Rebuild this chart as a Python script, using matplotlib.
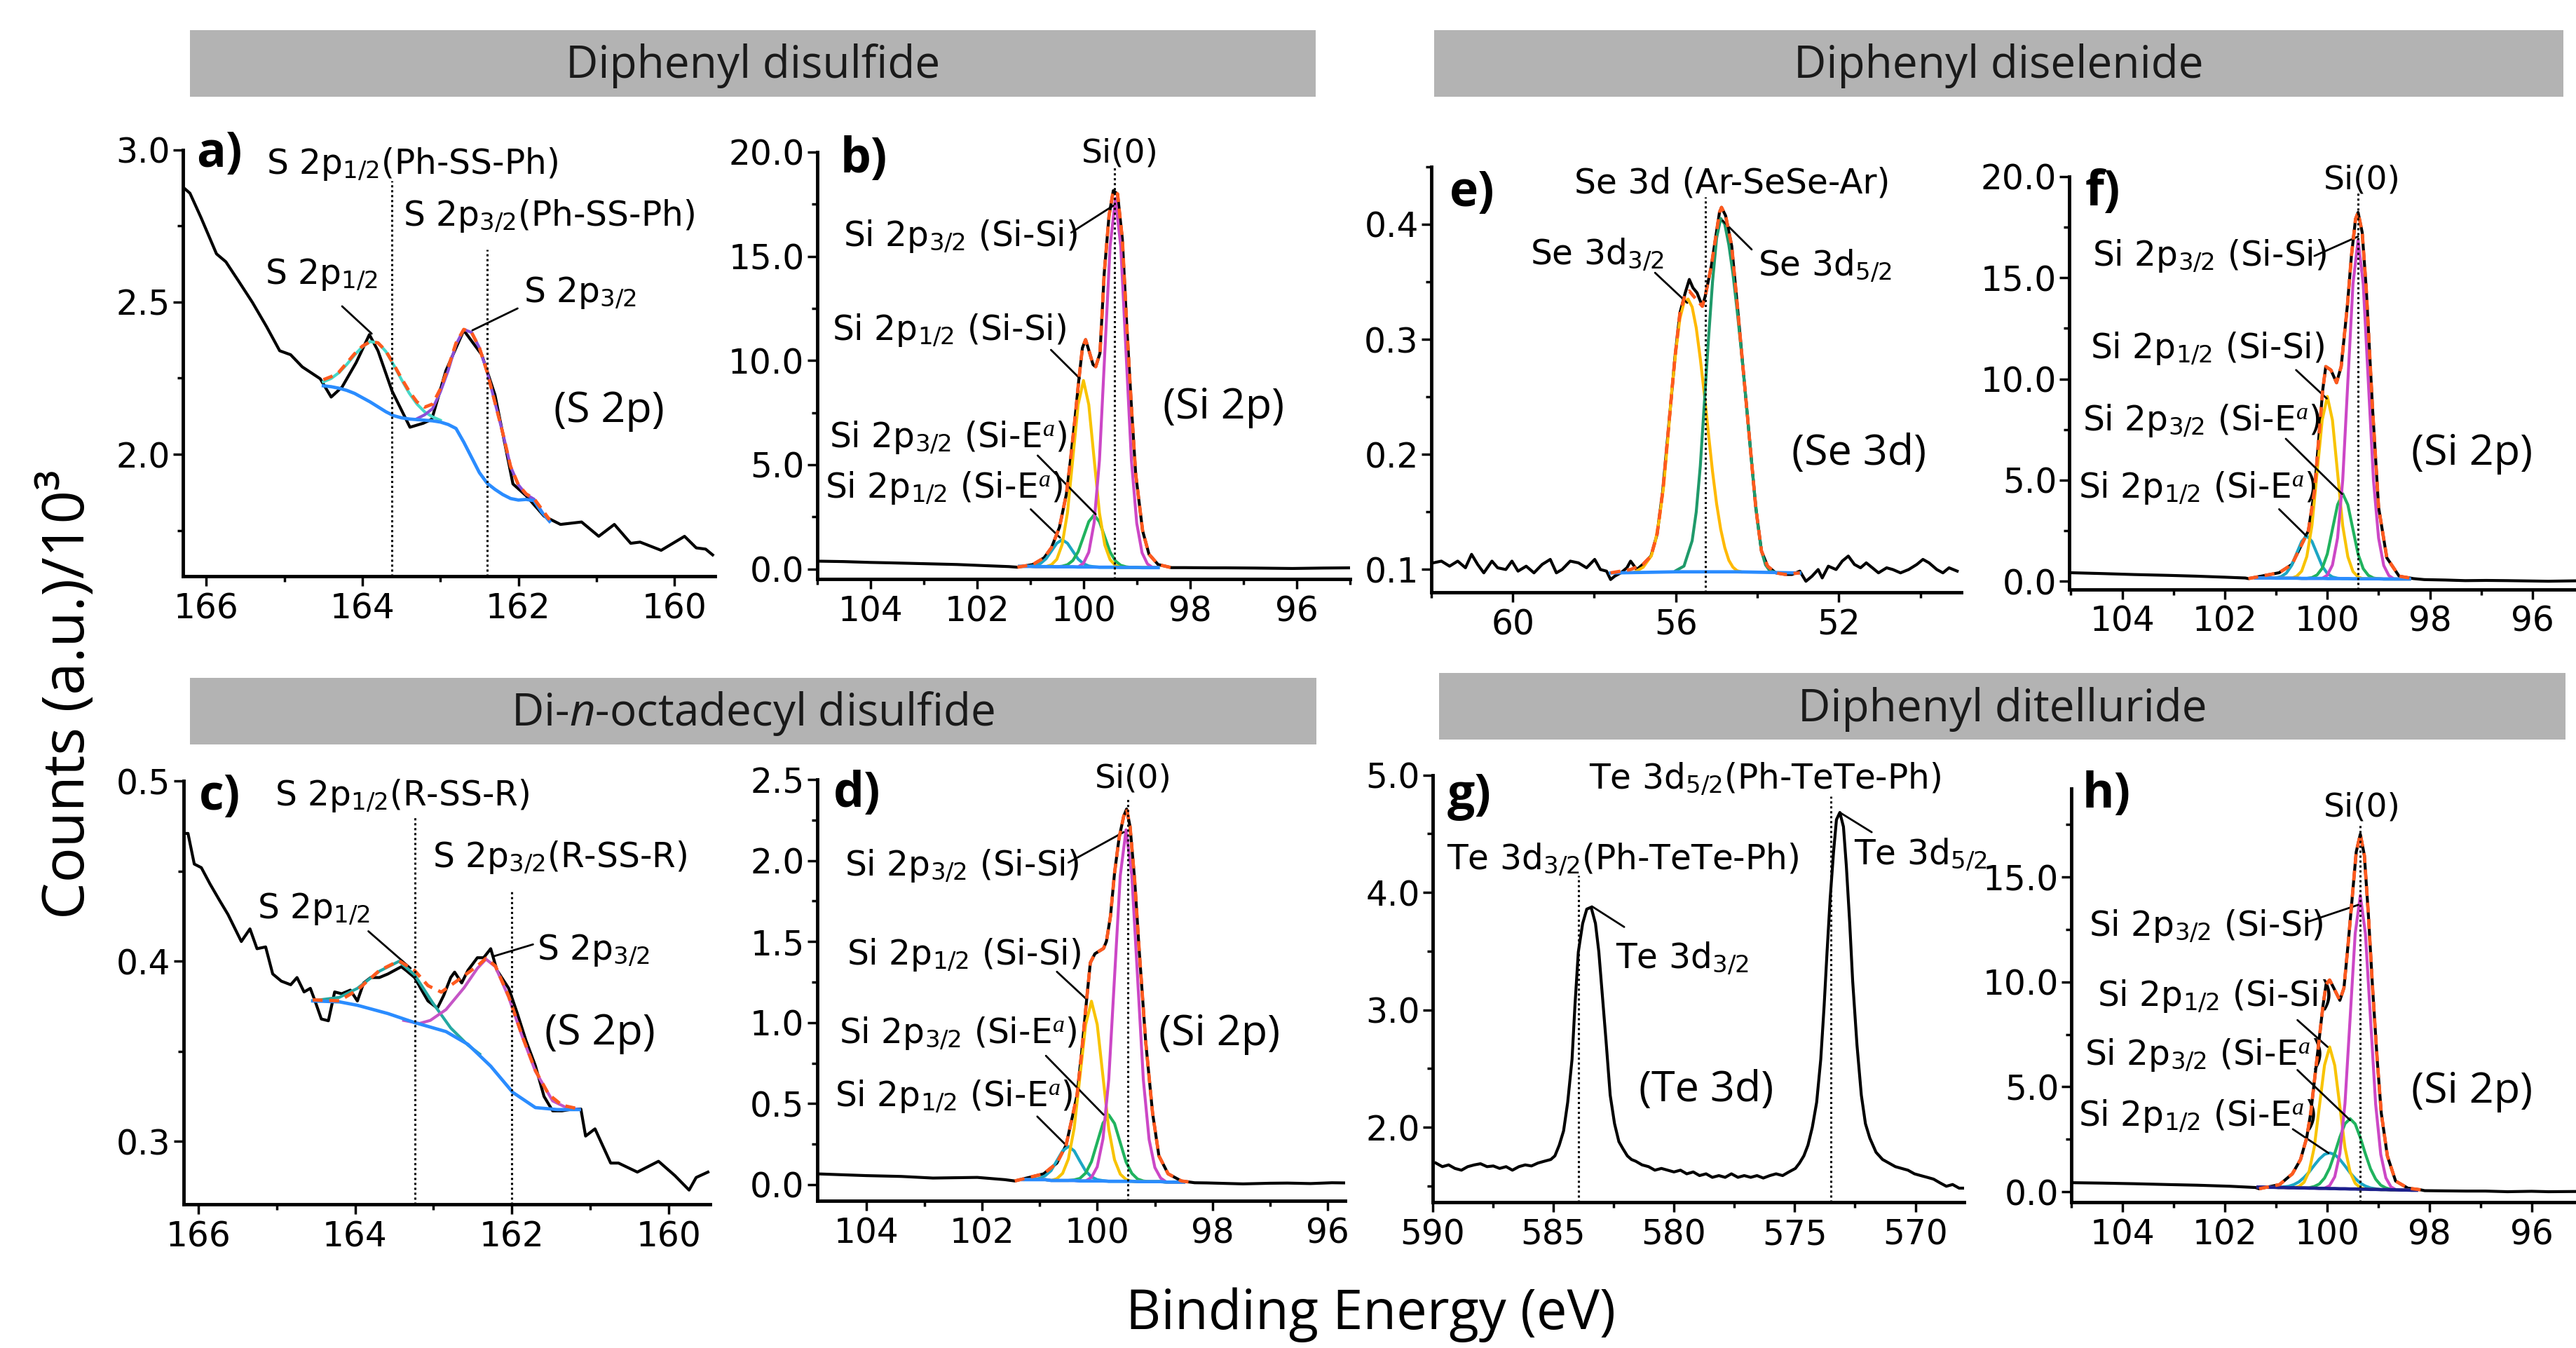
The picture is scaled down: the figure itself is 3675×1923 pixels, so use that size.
import matplotlib
matplotlib.use('Agg')
import matplotlib.pyplot as plt
from matplotlib.patches import Rectangle
from matplotlib.ticker import MultipleLocator, FormatStrFormatter

plt.rcParams['font.family'] = ['DejaVu Sans']
plt.rcParams['mathtext.fontset'] = 'custom'
plt.rcParams['mathtext.rm'] = 'DejaVu Sans'
plt.rcParams['mathtext.it'] = 'Liberation Serif:italic'
plt.rcParams['mathtext.sf'] = 'Open Sans:italic'

# ---------------- panel a : S 2p, diphenyl disulfide ----------------
a_raw_x = [166.30, 166.21, 166.07, 165.87, 165.75, 165.58, 165.41, 165.23, 165.06, 164.92,
           164.77, 164.54, 164.40, 164.26, 164.08, 163.91, 163.80, 163.62, 163.39, 163.22,
           163.11, 162.93, 162.70, 162.47, 162.30, 162.07, 161.90, 161.67, 161.46, 161.19,
           160.97, 160.77, 160.56, 160.44, 160.17, 159.87, 159.72, 159.60, 159.51]
a_raw_y = [2.877, 2.857, 2.778, 2.658, 2.632, 2.566, 2.499, 2.420, 2.340, 2.327,
           2.287, 2.248, 2.188, 2.221, 2.301, 2.393, 2.340, 2.208, 2.089, 2.102,
           2.115, 2.274, 2.407, 2.327, 2.195, 1.903, 1.864, 1.797, 1.770, 1.778,
           1.731, 1.770, 1.708, 1.712, 1.685, 1.731, 1.693, 1.689, 1.670]
a_fit_x = [164.5, 164.4, 164.3, 164.2, 164.1, 164.0, 163.9, 163.8, 163.7, 163.6,
           163.5, 163.4, 163.3, 163.2, 163.1, 163.0, 162.9, 162.8, 162.7, 162.6,
           162.5, 162.4, 162.3, 162.2, 162.1, 162.0, 161.9, 161.8, 161.7, 161.6]
a_bg = [2.225, 2.222, 2.217, 2.21, 2.20, 2.186, 2.172, 2.156, 2.14, 2.127,
        2.12, 2.116, 2.114, 2.112, 2.11, 2.106, 2.098, 2.085, 2.04, 1.99,
        1.94, 1.905, 1.885, 1.868, 1.855, 1.85, 1.852, 1.848, 1.81, 1.78]
a_env = [2.245, 2.255, 2.27, 2.30, 2.33, 2.355, 2.37, 2.366, 2.34, 2.296,
         2.25, 2.207, 2.172, 2.155, 2.165, 2.215, 2.285, 2.365, 2.41, 2.40,
         2.35, 2.27, 2.17, 2.07, 1.96, 1.90, 1.87, 1.855, 1.82, 1.785]
a_s12_x = [164.5, 164.4, 164.3, 164.2, 164.1, 164.0, 163.9, 163.8, 163.7, 163.6,
           163.5, 163.4, 163.3, 163.2, 163.1, 163.0]
a_s12_y = [2.238, 2.249, 2.268, 2.295, 2.326, 2.353, 2.370, 2.366, 2.338, 2.294,
           2.246, 2.201, 2.165, 2.139, 2.123, 2.112]
a_s32_x = [163.3, 163.2, 163.1, 163.0, 162.9, 162.8, 162.7, 162.6, 162.5, 162.4,
           162.3, 162.2, 162.1, 162.0, 161.9, 161.8, 161.7]
a_s32_y = [2.117, 2.13, 2.15, 2.205, 2.275, 2.36, 2.41, 2.40, 2.35, 2.27,
           2.17, 2.07, 1.96, 1.90, 1.868, 1.853, 1.812]
a_ref = [163.62, 162.40]
a_ref_top = [2.897, 2.672]

# ---------------- panel b : Si 2p, diphenyl disulfide ----------------
b_left_x = [104.97, 104.5, 104.0, 103.63, 103.0, 102.37, 101.8, 101.4]
b_left_y = [0.37, 0.35, 0.31, 0.29, 0.25, 0.21, 0.15, 0.11]
b_right_x = [98.1, 97.6, 97.34, 96.8, 96.08, 95.5, 94.99]
b_right_y = [0.06, 0.05, 0.05, 0.04, 0.02, 0.04, 0.05]
b_env_x = [101.24, 100.95, 100.74, 100.60, 100.45, 100.32, 100.24, 100.16, 100.09, 100.02,
           99.96, 99.90, 99.82, 99.77, 99.69, 99.61, 99.52, 99.44, 99.36, 99.27,
           99.19, 99.10, 99.02, 98.89, 98.77, 98.60, 98.35]
b_env_y = [0.08, 0.21, 0.53, 1.02, 2.0, 3.6, 5.3, 7.2, 9.0, 10.6,
           11.0, 10.5, 9.8, 9.7, 10.35, 14.2, 16.95, 18.15, 17.99, 15.82,
           11.8, 7.78, 4.56, 1.83, 0.70, 0.21, 0.06]
b_fit_x = [101.2, 101.1, 101.0, 100.9, 100.8, 100.7, 100.6, 100.5, 100.4, 100.3,
           100.2, 100.1, 100.0, 99.9, 99.8, 99.7, 99.6, 99.5, 99.4, 99.3,
           99.2, 99.1, 99.0, 98.9, 98.8, 98.7, 98.6]
b_bg = [0.12, 0.12, 0.12, 0.11, 0.11, 0.11, 0.11, 0.10, 0.10, 0.10,
        0.10, 0.09, 0.09, 0.09, 0.09, 0.08, 0.08, 0.08, 0.08, 0.07,
        0.07, 0.07, 0.07, 0.06, 0.06, 0.06, 0.06]
b_sisi32 = [0, 0, 0, 0, 0, 0, 0, 0, 0, 0, 0, 0, 0.18, 0.71, 2.12, 5.13, 10.27, 15.4, 17.7,
            15.4, 10.27, 5.13, 2.12, 0.71, 0.18, 0, 0]
b_sisi12 = [0, 0, 0, 0, 0, 0, 0.09, 0.36, 1.07, 2.6, 5.19, 7.79, 8.95, 7.79, 5.19, 2.6,
            1.07, 0.36, 0.09, 0, 0, 0, 0, 0, 0, 0, 0]
b_sie32 = [0, 0, 0, 0, 0, 0, 0, 0, 0.03, 0.1, 0.3, 0.73, 1.45, 2.18, 2.5, 2.18, 1.45,
           0.73, 0.3, 0.1, 0.03, 0, 0, 0, 0, 0, 0]
b_sie12 = [0, 0, 0.01, 0.05, 0.16, 0.38, 0.75, 1.13, 1.3, 1.13, 0.75, 0.38, 0.16, 0.05,
           0.01, 0, 0, 0, 0, 0, 0, 0, 0, 0, 0, 0, 0]
b_ref = 99.42

# ---------------- panel e : Se 3d, diphenyl diselenide ----------------
e_raw_x = [61.95, 61.75, 61.55, 61.35, 61.16, 61.01, 60.86, 60.71, 60.51, 60.37,
           60.17, 60.02, 59.87, 59.67, 59.48, 59.28, 59.08, 58.93, 58.79, 58.59,
           58.39, 58.19, 57.99, 57.85, 57.70, 57.60, 57.50, 57.35, 57.20, 57.11,
           56.96, 56.81, 56.61, 56.46, 56.32, 56.17, 56.02, 55.90, 55.77, 55.67,
           55.58, 55.48, 55.35, 55.28, 55.13, 55.03, 54.93, 54.88, 54.78, 54.63,
           54.49, 54.34, 54.19, 54.04, 53.90, 53.75, 53.55, 53.31, 53.15, 52.96,
           52.81, 52.66, 52.51, 52.41, 52.26, 52.07, 51.92, 51.77, 51.62, 51.47,
           51.33, 51.18, 51.03, 50.83, 50.68, 50.49, 50.29, 50.09, 49.94, 49.79,
           49.60, 49.45, 49.30, 49.10]
e_raw_y = [0.1058, 0.1073, 0.1029, 0.1073, 0.1015, 0.1132, 0.1044, 0.0971, 0.1073, 0.1015,
           0.1000, 0.1073, 0.0986, 0.1029, 0.0971, 0.1044, 0.1088, 0.0971, 0.1000, 0.1073,
           0.1058, 0.1015, 0.1088, 0.1000, 0.0986, 0.0913, 0.0942, 0.0971, 0.1015, 0.1073,
           0.1000, 0.1044, 0.1117, 0.1306, 0.1685, 0.2267, 0.2850, 0.3229, 0.3404, 0.3520,
           0.3447, 0.3404, 0.3287, 0.3374, 0.3636, 0.3870, 0.4102, 0.4146, 0.4074, 0.3811,
           0.3287, 0.2705, 0.2122, 0.1539, 0.1161, 0.1029, 0.0971, 0.0957, 0.0957, 0.0986,
           0.0898, 0.0942, 0.1000, 0.0927, 0.1029, 0.1000, 0.1073, 0.1117, 0.1044, 0.1015,
           0.1058, 0.1015, 0.0971, 0.1015, 0.1000, 0.0971, 0.1000, 0.1044, 0.1088, 0.1058,
           0.1000, 0.0971, 0.1015, 0.0986]
e_env_x = [57.60, 57.11, 56.81, 56.61, 56.46, 56.32, 56.17, 56.02, 55.90, 55.77,
           55.67, 55.58, 55.48, 55.35, 55.28, 55.13, 55.03, 54.93, 54.88, 54.78,
           54.63, 54.49, 54.34, 54.19, 54.04, 53.90, 53.75, 53.55, 53.31, 52.96]
e_env_y = [0.0971, 0.1000, 0.1044, 0.1117, 0.1306, 0.1685, 0.2267, 0.2850, 0.3229, 0.3390,
           0.3420, 0.3380, 0.3340, 0.3287, 0.3374, 0.3636, 0.3870, 0.4102, 0.4146, 0.4074,
           0.3811, 0.3287, 0.2705, 0.2122, 0.1539, 0.1161, 0.1029, 0.0971, 0.0957, 0.0971]
e_s32_x = [57.0, 56.8, 56.6, 56.5, 56.4, 56.3, 56.2, 56.1, 56.0, 55.9, 55.8, 55.7, 55.6,
           55.5, 55.4, 55.3, 55.2, 55.1, 55.0, 54.9, 54.8, 54.7, 54.6, 54.5, 54.4]
e_s32_y = [0.098, 0.102, 0.112, 0.125, 0.145, 0.172, 0.212, 0.255, 0.290, 0.318, 0.332,
           0.335, 0.328, 0.310, 0.283, 0.252, 0.218, 0.185, 0.157, 0.135, 0.119, 0.108,
           0.102, 0.099, 0.098]
e_s52_x = [56.0, 55.8, 55.6, 55.5, 55.4, 55.3, 55.2, 55.1, 55.0, 54.9, 54.8, 54.7, 54.6,
           54.5, 54.4, 54.3, 54.2, 54.1, 54.0, 53.9, 53.8, 53.7, 53.6]
e_s52_y = [0.099, 0.103, 0.125, 0.150, 0.190, 0.245, 0.300, 0.350, 0.388, 0.405, 0.400,
           0.382, 0.357, 0.326, 0.292, 0.255, 0.216, 0.177, 0.142, 0.116, 0.104, 0.099, 0.098]
e_bg_x = [57.6, 56.0, 54.5, 52.96]
e_bg_y = [0.097, 0.098, 0.098, 0.097]
e_ref = 55.28

# ---------------- panel f : Si 2p, diphenyl diselenide ----------------
f_left_x = [105.0, 104.4, 103.76, 103.1, 102.55, 102.0, 101.6]
f_left_y = [0.42, 0.38, 0.33, 0.29, 0.25, 0.20, 0.16]
f_right_x = [98.11, 97.7, 97.31, 96.9, 96.50, 95.69, 95.15]
f_right_y = [0.08, 0.06, 0.03, 0.04, 0.03, 0.0, 0.02]
f_env_x = [101.54, 100.94, 100.69, 100.53, 100.37, 100.25, 100.17, 100.09, 100.03, 99.93,
           99.82, 99.73, 99.61, 99.53, 99.45, 99.40, 99.32, 99.24, 99.12, 99.00,
           98.84, 98.60, 98.32]
f_env_y = [0.13, 0.42, 0.83, 1.66, 2.49, 4.48, 6.96, 9.45, 10.61, 10.44,
           9.81, 10.61, 13.59, 16.08, 17.9, 18.23, 17.24, 14.42, 8.62, 3.65,
           1.16, 0.25, 0.13]
f_fit_x = [101.4, 101.3, 101.2, 101.1, 101.0, 100.9, 100.8, 100.7, 100.6, 100.5, 100.4,
           100.3, 100.2, 100.1, 100.0, 99.9, 99.8, 99.7, 99.6, 99.5, 99.4, 99.3, 99.2,
           99.1, 99.0, 98.9, 98.8, 98.7, 98.6, 98.5, 98.4]
f_bg = [0.16, 0.16, 0.16, 0.16, 0.15, 0.15, 0.15, 0.15, 0.15, 0.14, 0.14, 0.14, 0.14,
        0.14, 0.13, 0.13, 0.13, 0.13, 0.13, 0.12, 0.12, 0.12, 0.12, 0.12, 0.12, 0.11,
        0.11, 0.11, 0.11, 0.11, 0.11]
f_sisi32 = [0, 0, 0, 0, 0, 0, 0, 0, 0, 0, 0, 0, 0, 0, 0.17, 0.67, 2.01, 4.86, 9.72, 14.57,
            16.75, 14.57, 9.72, 4.86, 2.01, 0.67, 0.17, 0, 0, 0, 0]
f_sisi12 = [0, 0, 0, 0, 0, 0, 0, 0, 0.09, 0.36, 1.08, 2.61, 5.22, 7.83, 9.0, 7.83, 5.22,
            2.61, 1.08, 0.36, 0.09, 0, 0, 0, 0, 0, 0, 0, 0, 0, 0]
f_sie32 = [0, 0, 0, 0, 0, 0, 0, 0, 0, 0, 0, 0.04, 0.17, 0.5, 1.22, 2.44, 3.65, 4.2, 3.65,
           2.44, 1.22, 0.5, 0.17, 0.04, 0, 0, 0, 0, 0, 0, 0]
f_sie12 = [0, 0, 0, 0, 0.02, 0.08, 0.25, 0.61, 1.22, 1.83, 2.1, 1.83, 1.22, 0.61, 0.25,
           0.08, 0.02, 0, 0, 0, 0, 0, 0, 0, 0, 0, 0, 0, 0, 0, 0]
f_ref = 99.40

# ---------------- panel c : S 2p, di-n-octadecyl disulfide ----------------
c_raw_x = [166.19, 166.13, 166.05, 165.96, 165.85, 165.73, 165.62, 165.45, 165.34, 165.25,
           165.14, 165.05, 164.94, 164.82, 164.74, 164.65, 164.57, 164.51, 164.43, 164.34,
           164.26, 164.17, 164.06, 163.97, 163.89, 163.80, 163.69, 163.58, 163.41, 163.35,
           163.24, 163.15, 163.07, 162.95, 162.87, 162.78, 162.73, 162.64, 162.56, 162.44,
           162.36, 162.27, 162.19, 162.04, 161.93, 161.82, 161.70, 161.59, 161.48, 161.36,
           161.22, 161.12, 161.06, 160.94, 160.74, 160.64, 160.40, 160.13, 159.92, 159.74,
           159.65, 159.50]
c_raw_y = [0.471, 0.471, 0.454, 0.452, 0.443, 0.434, 0.426, 0.411, 0.418, 0.407,
           0.408, 0.393, 0.389, 0.387, 0.391, 0.383, 0.385, 0.378, 0.368, 0.367,
           0.383, 0.382, 0.384, 0.378, 0.388, 0.391, 0.391, 0.393, 0.397, 0.395,
           0.391, 0.384, 0.378, 0.374, 0.381, 0.391, 0.394, 0.388, 0.395, 0.402,
           0.402, 0.407, 0.395, 0.385, 0.371, 0.356, 0.342, 0.325, 0.317, 0.317,
           0.318, 0.318, 0.303, 0.307, 0.288, 0.288, 0.283, 0.289, 0.281, 0.273,
           0.280, 0.283]
c_env_x = [164.54, 164.20, 163.97, 163.69, 163.44, 163.24, 163.07, 162.90, 162.67, 162.44,
           162.33, 162.21, 162.04, 161.87, 161.70, 161.53, 161.36, 161.16]
c_env_y = [0.3786, 0.3781, 0.3841, 0.3949, 0.4003, 0.3949, 0.3865, 0.3829, 0.3901, 0.3974,
           0.4017, 0.3974, 0.3805, 0.3588, 0.3394, 0.3261, 0.3201, 0.3182]
c_bg_x = [164.54, 164.20, 163.97, 163.58, 163.24, 162.84, 162.56, 162.27, 161.99, 161.70,
          161.42, 161.14]
c_bg_y = [0.378, 0.3775, 0.3756, 0.371, 0.366, 0.361, 0.3539, 0.3418, 0.3273, 0.3188,
          0.3177, 0.3177]
c_s12_x = [164.54, 164.20, 163.97, 163.69, 163.44, 163.24, 163.01, 162.78, 162.56, 162.41]
c_s12_y = [0.3781, 0.3800, 0.3850, 0.3945, 0.4000, 0.3925, 0.3770, 0.3630, 0.3535, 0.3485]
c_s32_x = [163.38, 163.18, 163.04, 162.84, 162.61, 162.44, 162.33, 162.21, 162.04, 161.87,
           161.70, 161.48, 161.31, 161.14]
c_s32_y = [0.3672, 0.3655, 0.3672, 0.3732, 0.3853, 0.3961, 0.4012, 0.3970, 0.3800, 0.3585,
           0.3390, 0.3225, 0.3189, 0.3177]
c_ref = [163.24, 162.0]
c_ref_top = [0.4807, 0.4396]

# ---------------- panel d : Si 2p, di-n-octadecyl disulfide ----------------
d_left_x = [104.86, 104.4, 104.0, 103.4, 102.85, 102.08, 101.6]
d_left_y = [0.066, 0.060, 0.055, 0.050, 0.040, 0.044, 0.030]
d_right_x = [98.1, 97.47, 97.0, 96.70, 96.3, 95.93, 95.7]
d_right_y = [0.010, 0.004, 0.008, 0.009, 0.006, 0.011, 0.010]
d_env_x = [101.43, 100.93, 100.70, 100.54, 100.43, 100.35, 100.27, 100.20, 100.12, 100.04,
           99.89, 99.84, 99.77, 99.70, 99.62, 99.54, 99.49, 99.43, 99.35, 99.27,
           99.16, 99.04, 98.93, 98.77, 98.54, 98.31]
d_env_y = [0.022, 0.066, 0.132, 0.243, 0.420, 0.552, 0.817, 1.082, 1.369, 1.425,
           1.458, 1.502, 1.657, 1.922, 2.142, 2.275, 2.319, 2.209, 1.877, 1.436,
           0.884, 0.442, 0.177, 0.066, 0.022, 0.011]
d_fit_x = [101.3, 101.2, 101.1, 101.0, 100.9, 100.8, 100.7, 100.6, 100.5, 100.4, 100.3,
           100.2, 100.1, 100.0, 99.9, 99.8, 99.7, 99.6, 99.5, 99.4, 99.3, 99.2, 99.1,
           99.0, 98.9, 98.8, 98.7, 98.6, 98.5]
d_bg = [0.03, 0.03, 0.03, 0.03, 0.03, 0.025, 0.025, 0.025, 0.025, 0.025, 0.022, 0.022,
        0.022, 0.022, 0.022, 0.02, 0.02, 0.02, 0.02, 0.02, 0.018, 0.018, 0.018, 0.018,
        0.018, 0.015, 0.015, 0.015, 0.015]
d_sisi32 = [0, 0, 0, 0, 0, 0, 0, 0, 0, 0, 0, 0, 0.022, 0.087, 0.26, 0.629, 1.259, 1.888,
            2.17, 1.888, 1.259, 0.629, 0.26, 0.087, 0.022, 0, 0, 0, 0]
d_sisi12 = [0, 0, 0, 0, 0, 0, 0.011, 0.044, 0.133, 0.322, 0.644, 0.966, 1.11, 0.966,
            0.644, 0.322, 0.133, 0.044, 0.011, 0, 0, 0, 0, 0, 0, 0, 0, 0, 0]
d_sie32 = [0, 0, 0, 0, 0, 0, 0, 0, 0, 0.004, 0.016, 0.049, 0.119, 0.238, 0.357, 0.41,
           0.357, 0.238, 0.119, 0.049, 0.016, 0.004, 0, 0, 0, 0, 0, 0, 0]
d_sie12 = [0, 0, 0.002, 0.008, 0.025, 0.061, 0.122, 0.183, 0.21, 0.183, 0.122, 0.061,
           0.025, 0.008, 0.002, 0, 0, 0, 0, 0, 0, 0, 0, 0, 0, 0, 0, 0, 0]
d_ref = 99.47

# ---------------- panel g : Te 3d, diphenyl ditelluride ----------------
g_raw_x = [589.86, 589.59, 589.33, 589.07, 588.80, 588.54, 588.27, 588.01, 587.74, 587.48,
           587.22, 586.95, 586.69, 586.42, 586.16, 585.90, 585.63, 585.37, 585.10, 584.93,
           584.75, 584.57, 584.40, 584.22, 584.10, 583.96, 583.78, 583.61, 583.43, 583.25,
           583.11, 582.99, 582.81, 582.64, 582.46, 582.28, 582.11, 581.93, 581.76, 581.58,
           581.32, 581.05, 580.79, 580.52, 580.26, 580.00, 579.73, 579.47, 579.20, 578.94,
           578.67, 578.41, 578.14, 577.88, 577.62, 577.35, 577.09, 576.82, 576.56, 576.30,
           576.03, 575.77, 575.50, 575.24, 574.97, 574.80, 574.62, 574.45, 574.27, 574.09,
           573.92, 573.78, 573.66, 573.53, 573.39, 573.27, 573.13, 572.98, 572.86, 572.72,
           572.60, 572.42, 572.24, 572.07, 571.89, 571.63, 571.36, 571.10, 570.83, 570.57,
           570.31, 570.04, 569.78, 569.51, 569.25, 568.99, 568.72, 568.46, 568.19, 567.96]
g_raw_y = [1.696, 1.665, 1.680, 1.650, 1.635, 1.665, 1.680, 1.690, 1.665, 1.671,
           1.650, 1.665, 1.635, 1.665, 1.680, 1.671, 1.696, 1.711, 1.726, 1.757,
           1.848, 1.970, 2.213, 2.579, 3.036, 3.493, 3.736, 3.858, 3.874, 3.736,
           3.493, 3.188, 2.731, 2.274, 2.031, 1.878, 1.817, 1.757, 1.726, 1.711,
           1.680, 1.665, 1.635, 1.650, 1.635, 1.620, 1.635, 1.604, 1.620, 1.589,
           1.604, 1.574, 1.589, 1.574, 1.604, 1.574, 1.589, 1.574, 1.589, 1.568,
           1.589, 1.604, 1.589, 1.620, 1.650, 1.696, 1.757, 1.848, 2.000, 2.213,
           2.579, 3.036, 3.493, 3.950, 4.346, 4.620, 4.681, 4.559, 4.224, 3.736,
           3.249, 2.701, 2.274, 2.031, 1.909, 1.787, 1.726, 1.696, 1.665, 1.650,
           1.635, 1.604, 1.589, 1.574, 1.559, 1.528, 1.498, 1.513, 1.482, 1.482]
g_ref = [583.94, 573.51]
g_ref_top = [4.147, 4.818]

# ---------------- panel h : Si 2p, diphenyl ditelluride ----------------
h_left_x = [104.99, 104.4, 103.76, 103.1, 102.54, 101.9, 101.4]
h_left_y = [0.43, 0.41, 0.38, 0.34, 0.31, 0.26, 0.20]
h_right_x = [98.09, 97.7, 97.28, 96.9, 96.47, 96.0, 95.67, 95.13]
h_right_y = [0.05, 0.04, 0.03, 0.03, 0.0, 0.02, 0.0, 0.01]
h_env_x = [101.33, 100.93, 100.68, 100.52, 100.40, 100.32, 100.24, 100.16, 100.08, 100.02,
           99.95, 99.87, 99.75, 99.67, 99.59, 99.51, 99.43, 99.35, 99.27, 99.19,
           99.11, 99.02, 98.94, 98.82, 98.66, 98.42, 98.17]
h_env_y = [0.14, 0.34, 0.85, 1.53, 2.56, 3.75, 5.45, 7.16, 8.86, 9.88,
           10.09, 9.71, 9.12, 9.71, 11.76, 13.97, 16.19, 17.04, 16.02, 13.12,
           9.71, 6.31, 3.75, 1.70, 0.51, 0.17, 0.09]
h_fit_x = [101.35, 101.25, 101.15, 101.05, 100.95, 100.85, 100.75, 100.65, 100.55, 100.45,
           100.35, 100.25, 100.15, 100.05, 99.95, 99.85, 99.75, 99.65, 99.55, 99.45,
           99.35, 99.25, 99.15, 99.05, 98.95, 98.85, 98.75, 98.65, 98.55, 98.45,
           98.35, 98.25]
h_bg = [0.22, 0.22, 0.21, 0.21, 0.20, 0.20, 0.19, 0.19, 0.18, 0.18, 0.17, 0.17, 0.16,
        0.16, 0.15, 0.15, 0.14, 0.14, 0.13, 0.13, 0.12, 0.12, 0.11, 0.11, 0.10, 0.10,
        0.09, 0.09, 0.08, 0.08, 0.07, 0.07]
h_sisi32 = [0, 0, 0, 0, 0, 0, 0, 0, 0, 0, 0, 0, 0, 0, 0.14, 0.56, 1.68, 4.06, 8.12, 12.18,
            14.0, 12.18, 8.12, 4.06, 1.68, 0.56, 0.14, 0, 0, 0, 0, 0]
h_sisi12 = [0, 0, 0, 0, 0, 0, 0, 0, 0.07, 0.27, 0.81, 1.96, 3.92, 5.87, 6.75, 5.87, 3.92,
            1.96, 0.81, 0.27, 0.07, 0, 0, 0, 0, 0, 0, 0, 0, 0, 0, 0]
h_sie32 = [0, 0, 0, 0, 0, 0, 0, 0, 0, 0, 0.02, 0.08, 0.21, 0.49, 0.98, 1.68, 2.46, 3.10,
           3.35, 3.10, 2.46, 1.68, 0.98, 0.49, 0.21, 0.08, 0.02, 0, 0, 0, 0, 0]
h_sie12 = [0, 0, 0, 0, 0, 0.03, 0.07, 0.15, 0.29, 0.50, 0.77, 1.09, 1.40, 1.62, 1.70, 1.62,
           1.40, 1.09, 0.77, 0.50, 0.29, 0.15, 0.07, 0.03, 0, 0, 0, 0, 0, 0, 0, 0]
h_ref = 99.35

# ---------------- styling ----------------
W, H = 3675, 1923
TITLE = ['Open Sans', 'DejaVu Sans']
ENV = '#ff5a1e'
BG = '#2a8cff'
MAG = '#cc47c6'
YEL = '#f8c300'
GRN = '#20b35e'
CYA = '#1ca6c4'

fig = plt.figure(figsize=(W / 100, H / 100), dpi=100)


def add_panel(box, xlim, ylim, xstep, ystep, yfmt):
    l, t, r, b = box
    ax = fig.add_axes([l / W, 1 - b / H, (r - l) / W, (b - t) / H])
    ax.patch.set_alpha(0)
    ax.set_xlim(*xlim)
    ax.set_ylim(*ylim)
    ax.spines[['top', 'right']].set_visible(False)
    ax.spines[['left', 'bottom']].set_linewidth(3.5)
    ax.xaxis.set_major_locator(MultipleLocator(xstep))
    ax.xaxis.set_minor_locator(MultipleLocator(xstep / 2))
    ax.yaxis.set_major_locator(MultipleLocator(ystep))
    ax.yaxis.set_minor_locator(MultipleLocator(ystep / 2))
    ax.xaxis.set_major_formatter(FormatStrFormatter('%d'))
    ax.yaxis.set_major_formatter(FormatStrFormatter(yfmt))
    ax.tick_params(which='both', direction='out', width=2.5, labelsize=35)
    ax.tick_params(which='major', length=10)
    ax.tick_params(which='minor', length=6)
    ax.tick_params(axis='x', pad=6)
    ax.tick_params(axis='y', pad=3)
    return ax


def note(ax, x, y, s, size=35):
    ax.text(x, y, s, fontsize=size, ha='left', va='baseline')


def leader(ax, p0, p1):
    ax.annotate('', xy=p1, xytext=p0,
                arrowprops=dict(arrowstyle='-', color='black', lw=2, shrinkA=0, shrinkB=0))


def ref_line(ax, x, top):
    ax.vlines(x, ax.get_ylim()[0], top, colors='black', linestyles=(0, (1, 1.3)), lw=2.2, zorder=6)


def region(ax, x, y, s):
    ax.text(x, y, s, fontsize=44, family=TITLE, ha='left', va='center')


def letter(ax, x, y, s):
    ax.text(x, y, s, fontsize=50, family=TITLE, fontweight='bold', ha='left', va='baseline')


def raw(ax, x, y):
    ax.plot(x, y, color='black', lw=3.0, zorder=2)


def comp(ax, x, y, color, lw=3.0):
    ax.plot(x, y, color=color, lw=lw, zorder=3)


def fit_env(ax, x, y):
    ax.plot(x, y, color=ENV, lw=3.4, ls=(0, (3, 2)), zorder=5)


def on_bg(bg, peak):
    return [b + p for b, p in zip(bg, peak)]


def si_panel(ax, left_x, left_y, env_x, env_y, right_x, right_y, fit_x, bg,
             s32, s12, e32, e12, bg_color=BG):
    raw(ax, left_x + env_x + right_x, left_y + env_y + right_y)
    comp(ax, fit_x, on_bg(bg, e12), CYA)
    comp(ax, fit_x, on_bg(bg, e32), GRN)
    comp(ax, fit_x, on_bg(bg, s12), YEL)
    comp(ax, fit_x, on_bg(bg, s32), MAG)
    comp(ax, fit_x, bg, bg_color, lw=3.4)
    fit_env(ax, env_x, env_y)


def si_labels(ax, si0, ref, ref_top, pos, lines, reg, let):
    ax.text(si0[0], si0[1], 'Si(0)', fontsize=34, ha='center', va='baseline')
    ref_line(ax, ref, ref_top)
    texts = ['Si 2p$_{3/2}$ (Si-Si)', 'Si 2p$_{1/2}$ (Si-Si)',
             'Si 2p$_{3/2}$ (Si-E$^{a}$)', 'Si 2p$_{1/2}$ (Si-E$^{a}$)']
    for s, p, ln in zip(texts, pos, lines):
        note(ax, p[0], p[1], s)
        leader(ax, ln[0], ln[1])
    region(ax, reg[0], reg[1], '(Si 2p)')
    letter(ax, let[0], let[1], let[2])


# ---- a ----
ax = add_panel((261, 213.5, 1020, 822), (166.3, 159.48), (1.6, 3.0), 2, 0.5, '%.1f')
raw(ax, a_raw_x, a_raw_y)
comp(ax, a_s12_x, a_s12_y, '#45d8c8')
comp(ax, a_s32_x, a_s32_y, '#8b4fd8')
comp(ax, a_fit_x, a_bg, BG, lw=3.4)
fit_env(ax, a_fit_x, a_env)
for x, top in zip(a_ref, a_ref_top):
    ref_line(ax, x, top)
note(ax, 165.23, 2.92, 'S 2p$_{1/2}$(Ph-SS-Ph)')
note(ax, 163.48, 2.751, 'S 2p$_{3/2}$(Ph-SS-Ph)')
note(ax, 165.25, 2.559, 'S 2p$_{1/2}$')
leader(ax, (164.26, 2.486), (163.88, 2.396))
note(ax, 161.93, 2.499, 'S 2p$_{3/2}$')
leader(ax, (162.01, 2.479), (162.59, 2.407))
region(ax, 161.55, 2.142, '(S 2p)')
letter(ax, 166.13, 2.943, 'a)')

# ---- b ----
ax = add_panel((1165.6, 217, 1925.8, 826.4), (105, 95), (-0.5, 20), 2, 5, '%.1f')
si_panel(ax, b_left_x, b_left_y, b_env_x, b_env_y, b_right_x, b_right_y, b_fit_x, b_bg,
         b_sisi32, b_sisi12, b_sie32, b_sie12)
si_labels(ax, (99.32, 19.5), b_ref, 19.36,
          [(104.51, 15.5), (104.72, 10.99), (104.77, 5.84), (104.85, 3.43)],
          [((100.23, 16.14), (99.44, 17.43)), ((100.61, 10.51), (100.07, 9.14)),
           ((100.86, 5.44), (99.77, 2.62)), ((100.99, 2.86), (100.44, 1.5))],
          (98.51, 7.77), (104.56, 19.04, 'b)'))

# ---- e ----
ax = add_panel((2041.8, 237.7, 2798, 845.3), (62, 49), (0.08, 0.45), 4, 0.1, '%.1f')
raw(ax, e_raw_x, e_raw_y)
comp(ax, e_s32_x, e_s32_y, '#ffb900')
comp(ax, e_s52_x, e_s52_y, '#1f9a6a')
comp(ax, e_bg_x, e_bg_y, BG, lw=3.4)
fit_env(ax, e_env_x, e_env_y)
ref_line(ax, e_ref, 0.4234)
note(ax, 58.49, 0.4272, 'Se 3d (Ar-SeSe-Ar)')
note(ax, 59.57, 0.365, 'Se 3d$_{3/2}$')
leader(ax, (56.51, 0.3578), (55.72, 0.3316))
note(ax, 53.99, 0.355, 'Se 3d$_{5/2}$')
leader(ax, (54.14, 0.378), (54.85, 0.403))
region(ax, 53.16, 0.2005, '(Se 3d)')
letter(ax, 61.55, 0.416, 'e)')

# ---- f ----
ax = add_panel((2952.3, 251.9, 3675, 840.7), (105.03, 95.15), (-0.4, 20), 2, 5, '%.1f')
si_panel(ax, f_left_x, f_left_y, f_env_x, f_env_y, f_right_x, f_right_y, f_fit_x, f_bg,
         f_sisi32, f_sisi12, f_sie32, f_sie12)
si_labels(ax, (99.32, 19.39), f_ref, 19.22,
          [(104.58, 15.58), (104.62, 11.02), (104.77, 7.46), (104.85, 4.14)],
          [((100.25, 16.08), (99.40, 17.04)), ((100.61, 10.44), (100.01, 9.03)),
           ((100.81, 7.04), (99.71, 4.31)), ((100.94, 3.56), (100.41, 2.24))],
          (98.36, 6.3), (104.73, 18.56, 'f)'))

# ---- c ----
ax = add_panel((261.5, 1114.4, 1013.3, 1718.3), (166.19, 159.47), (0.265, 0.5), 2, 0.1, '%.1f')
raw(ax, c_raw_x, c_raw_y)
comp(ax, c_s12_x, c_s12_y, '#24a8a2')
comp(ax, c_s32_x, c_s32_y, '#c555c6')
comp(ax, c_bg_x, c_bg_y, BG, lw=3.4)
fit_env(ax, c_env_x, c_env_y)
for x, top in zip(c_ref, c_ref_top):
    ref_line(ax, x, top)
note(ax, 165.02, 0.4867, 'S 2p$_{1/2}$(R-SS-R)')
note(ax, 163.01, 0.4524, 'S 2p$_{3/2}$(R-SS-R)')
note(ax, 165.25, 0.4239, 'S 2p$_{1/2}$')
leader(ax, (163.83, 0.4167), (163.29, 0.3962))
note(ax, 161.68, 0.401, 'S 2p$_{3/2}$')
leader(ax, (161.73, 0.4094), (162.24, 0.4027))
region(ax, 161.58, 0.36, '(S 2p)')
letter(ax, 165.99, 0.4843, 'c)')

# ---- d ----
ax = add_panel((1165.6, 1112.2, 1919, 1712.9), (104.86, 95.7), (-0.1, 2.5), 2, 0.5, '%.1f')
si_panel(ax, d_left_x, d_left_y, d_env_x, d_env_y, d_right_x, d_right_y, d_fit_x, d_bg,
         d_sisi32, d_sisi12, d_sie32, d_sie12)
si_labels(ax, (99.38, 2.452), d_ref, 2.385,
          [(104.38, 1.910), (104.35, 1.358), (104.48, 0.872), (104.55, 0.486)],
          [((100.50, 1.988), (99.54, 2.176)), ((100.70, 1.314), (100.20, 1.149)),
           ((100.89, 0.795), (99.89, 0.431)), ((101.04, 0.42), (100.54, 0.243))],
          (98.93, 0.928), (104.58, 2.33, 'd)'))

# ---- g ----
ax = add_panel((2043.6, 1105.6, 2801.5, 1715.4), (590, 568), (1.36, 5.0), 5, 1, '%.1f')
raw(ax, g_raw_x, g_raw_y)
for x, top in zip(g_ref, g_ref_top):
    ref_line(ax, x, top)
note(ax, 583.52, 4.879, 'Te 3d$_{5/2}$(Ph-TeTe-Ph)')
note(ax, 589.42, 4.193, 'Te 3d$_{3/2}$(Ph-TeTe-Ph)')
note(ax, 582.41, 3.356, 'Te 3d$_{3/2}$')
leader(ax, (582.06, 3.706), (583.40, 3.882))
note(ax, 572.55, 4.239, 'Te 3d$_{5/2}$')
leader(ax, (571.81, 4.513), (573.13, 4.681))
region(ax, 581.46, 2.32, '(Te 3d)')
letter(ax, 589.38, 4.711, 'g)')

# ---- h ----
ax = add_panel((2955.3, 1125.3, 3675, 1715), (105, 95.13), (-0.5, 19.2), 2, 5, '%.1f')
si_panel(ax, h_left_x, h_left_y, h_env_x, h_env_y, h_right_x, h_right_y, h_fit_x, h_bg,
         h_sisi32, h_sisi12, h_sie32, h_sie12, bg_color='#1c1f8c')
si_labels(ax, (99.32, 17.89), h_ref, 17.47,
          [(104.66, 12.18), (104.49, 8.86), (104.74, 6.05), (104.87, 3.15)],
          [((100.37, 12.87), (99.39, 13.67)), ((100.58, 8.18), (99.99, 6.9)),
           ((100.58, 5.8), (99.55, 3.41)), ((100.67, 2.98), (99.97, 1.84))],
          (98.35, 4.77), (104.79, 18.32, 'h)'))

# ---- title bars ----
bars = [((271, 43, 1877, 138), 'Diphenyl disulfide'),
        ((2046, 43, 3657, 138), 'Diphenyl diselenide'),
        ((271, 967, 1878, 1062), r'Di-$\mathsf{n}$-octadecyl disulfide'),
        ((2053, 960, 3660, 1055), 'Diphenyl ditelluride')]
for (l, t, r, b), s in bars:
    fig.add_artist(Rectangle((l / W, 1 - b / H), (r - l) / W, (b - t) / H,
                             transform=fig.transFigure, facecolor='#b3b3b3',
                             edgecolor='none', zorder=0))
    fig.text((l + r) / 2 / W, 1 - ((t + b) / 2 + 21) / H, s, ha='center', va='baseline',
             fontsize=46, family=TITLE, color='#1a1a1a')

fig.text(98 / W, 1 - 990 / H, 'Counts (a.u.)/10\u00b3', rotation=90, ha='center',
         va='center', fontsize=60, family=TITLE)
fig.text(1955 / W, 1 - 1896 / H, 'Binding Energy (eV)', ha='center', va='baseline',
         fontsize=56, family=TITLE)

fig.savefig('out.png', dpi=100)
